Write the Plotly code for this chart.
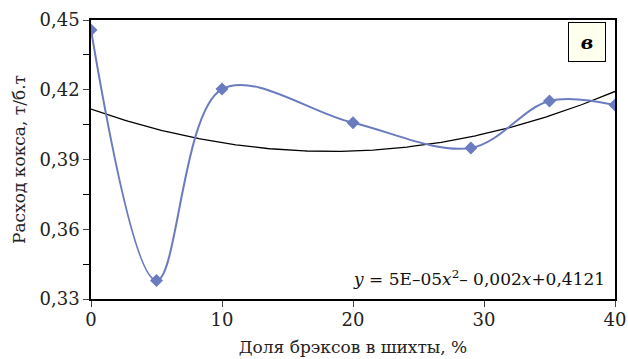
import numpy as np
import plotly.graph_objects as go

x_share = [0, 5, 10, 20, 29, 35, 40]
coke_rate = [0.4457, 0.338, 0.4203, 0.4058, 0.395, 0.4152, 0.4134]

x_ticks = [0, 10, 20, 30, 40]
y_ticks = [0.33, 0.36, 0.39, 0.42, 0.45]

coef = np.polyfit(x_share, coke_rate, 2)
xt = np.linspace(0, 40, 200)
yt = np.polyval(coef, xt)

blue = "#6A7BBF"
font = "DejaVu Serif"

fig = go.Figure()
fig.add_trace(go.Scatter(x=xt, y=yt, mode="lines", line=dict(color="black", width=1.3),
                         hoverinfo="skip", showlegend=False))
fig.add_trace(go.Scatter(x=x_share, y=coke_rate, mode="lines+markers",
                         line=dict(color=blue, width=2, shape="spline", smoothing=1.0),
                         marker=dict(symbol="diamond", size=10, color=blue),
                         showlegend=False))

fig.update_layout(
    width=628, height=359,
    margin=dict(l=91, r=13, t=20, b=60, autoexpand=False),
    plot_bgcolor="white", paper_bgcolor="white",
    separators=", ",
    font=dict(family=font, size=18, color="#222"),
    xaxis=dict(range=[0, 40], tickvals=x_ticks, ticks="outside", ticklen=6, automargin=False,
               ticklabelstandoff=-2,
               showline=True, linecolor="black", linewidth=1.5, mirror=True,
               showgrid=False, zeroline=False,
               title=dict(text="Доля брэксов в шихты, %", font=dict(family=font, size=17), standoff=12)),
    yaxis=dict(range=[0.33, 0.45], tickvals=y_ticks, tickformat=".2f", ticks="outside", ticklen=6,
               automargin=False,
               showline=True, linecolor="black", linewidth=1.5, mirror=True,
               showgrid=False, zeroline=False,
               minor=dict(tickvals=[0.345, 0.375, 0.405, 0.435], ticks="outside", ticklen=6,
                          tickcolor="black", showgrid=False),
               title=dict(text="Расход кокса, т/б.т", font=dict(family=font, size=17), standoff=10)),
)

fig.add_annotation(x=1, y=0.075, xref="paper", yref="paper", xanchor="right", yanchor="middle",
                   xshift=-8,
                   text="<i>y</i> = 5E–05<i>x</i><sup>2</sup>– 0,002<i>x</i>+0,4121",
                   showarrow=False, font=dict(family=font, size=17, color="#111"))

fig.add_annotation(x=0.947, y=0.921, xref="paper", yref="paper", xanchor="center", yanchor="middle",
                   text="<b><i>в</i></b>", showarrow=False, font=dict(family=font, size=19, color="black"),
                   bgcolor="#FFFFEE", bordercolor="black", borderwidth=1,
                   width=34, height=36)

fig.write_html("out.html")
